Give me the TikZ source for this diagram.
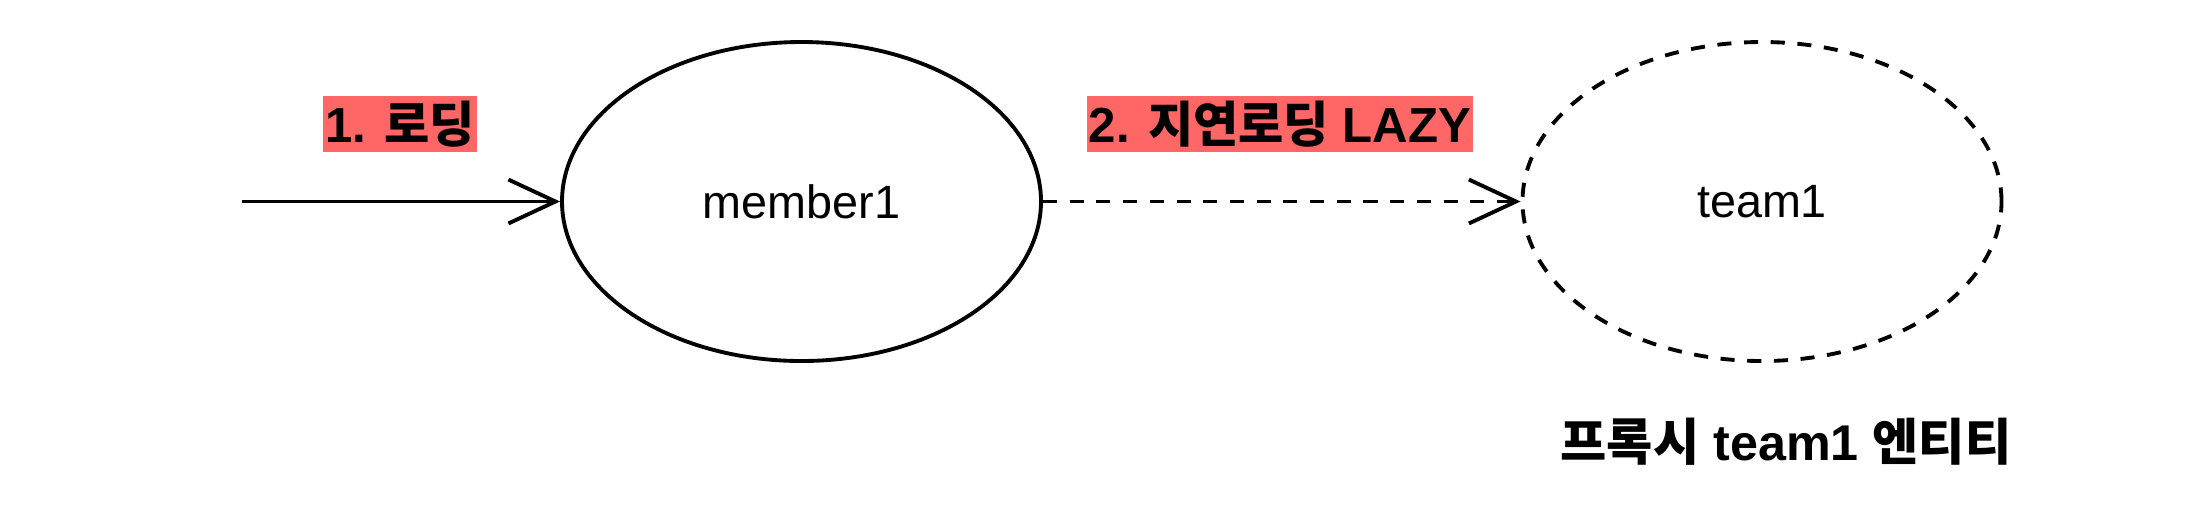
\documentclass[tikz,border=0pt]{standalone}
\usepackage{fontspec}
\setmainfont{Liberation Sans}
\newfontfamily\kr{Noto Sans CJK KR}
\usetikzlibrary{shapes.geometric,arrows.meta}
\definecolor{lblred}{HTML}{FF6666}
\tikzstyle{entity} = [ellipse, minimum width=4.79cm, minimum height=3.19cm, inner sep=0pt, draw=black, line width=1.1pt, font=\fontsize{13.3}{16}\selectfont]
\tikzstyle{proxy} = [entity, dash pattern=on 4pt off 3.6pt]
\tikzstyle{tag} = [rectangle, fill=lblred, minimum height=0.56cm, inner xsep=0.5pt, inner ysep=0pt, font=\fontsize{14}{16}\selectfont\bfseries]
\tikzstyle{caption} = [font=\fontsize{14.3}{17}\selectfont\bfseries]
\tikzstyle{arrow} = [line width=1.1pt, -{Straight Barb[length=13.4pt, width=12.5pt]}]

\begin{document}
\begin{tikzpicture}
\useasboundingbox (0,0) rectangle (21.92,5.24);

\coordinate (start) at (2.42,3.225);
\node (member1) [entity] at (8.015,3.225) {member1};
\node (team1) [proxy] at (17.62,3.225) {team1};
\node (load) [tag] at (4.0,4.0) {1. {\kr 로딩}};
\node (lazy) [tag] at (12.80,4.0) {2. {\kr 지연로딩} LAZY};
\node (proxyname) [caption] at (17.86,0.82) {{\kr 프록시} team1 {\kr 엔티티}};

\draw [arrow] (start) -- (member1);
\draw [arrow, dash pattern=on 4pt off 3.6pt] (member1) -- (team1);

\end{tikzpicture}
\end{document}
